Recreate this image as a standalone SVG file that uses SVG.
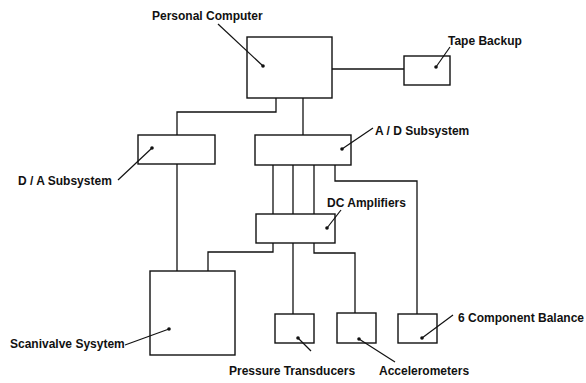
<svg xmlns="http://www.w3.org/2000/svg" width="586" height="383" viewBox="0 0 586 383">
<style>
.box{fill:#fff;stroke:#111;stroke-width:1.4}
.ln{fill:none;stroke:#111;stroke-width:1.3}
.ld{fill:none;stroke:#111;stroke-width:1.2}
.dot{fill:#111}
text{font-family:"Liberation Sans",Arial,sans-serif;font-size:12px;font-weight:bold;fill:#111}
</style>
<rect width="586" height="383" fill="#fff"/>
<g id="connectors">
<path class="ln" d="M332,69 H404"/>
<path class="ln" d="M276,98 V112 H177 V135"/>
<path class="ln" d="M303,98 V135"/>
<path class="ln" d="M177,164 V271"/>
<path class="ln" d="M273,165 V214 M293,165 V214 M314,165 V214"/>
<path class="ln" d="M335,165 V181 H417 V314"/>
<path class="ln" d="M273,243 V252 H208 V271"/>
<path class="ln" d="M293,243 V314"/>
<path class="ln" d="M314,243 V253 H355 V313"/>
</g>
<g id="pc">
<rect class="box" x="247" y="37" width="85" height="61"/>
<circle class="dot" cx="263" cy="66" r="1.8"/>
<path class="ld" d="M218,24 L263,66"/>
<text x="152" y="20">Personal Computer</text>
</g>
<g id="tape">
<rect class="box" x="404" y="56" width="46" height="29"/>
<circle class="dot" cx="436" cy="67" r="1.8"/>
<path class="ld" d="M450,47 L436,67"/>
<text x="448" y="45">Tape Backup</text>
</g>
<g id="da">
<rect class="box" x="138" y="135" width="77" height="29"/>
<circle class="dot" cx="152" cy="148" r="1.8"/>
<path class="ld" d="M118,180 L152,148"/>
<text x="18" y="185">D / A Subsystem</text>
</g>
<g id="ad">
<rect class="box" x="255" y="135" width="96" height="30"/>
<circle class="dot" cx="342" cy="149" r="1.8"/>
<path class="ld" d="M373,128 L342,149"/>
<text x="375" y="135">A / D Subsystem</text>
</g>
<g id="dc">
<rect class="box" x="256" y="214" width="79" height="29"/>
<circle class="dot" cx="327" cy="228" r="1.8"/>
<path class="ld" d="M341,210 L327,228"/>
<text x="327" y="207">DC Amplifiers</text>
</g>
<g id="scani">
<rect class="box" x="150" y="271" width="85" height="84"/>
<circle class="dot" cx="169" cy="329" r="1.8"/>
<path class="ld" d="M125,345 L169,329"/>
<text x="10" y="348">Scanivalve Sysytem</text>
</g>
<g id="pressure">
<rect class="box" x="275" y="314" width="39" height="29"/>
<circle class="dot" cx="298" cy="338" r="1.8"/>
<path class="ld" d="M298,338 L311,351"/>
<text x="229" y="375">Pressure Transducers</text>
</g>
<g id="accel">
<rect class="box" x="337" y="313" width="39" height="30"/>
<circle class="dot" cx="359" cy="339" r="1.8"/>
<path class="ld" d="M359,339 L395,362"/>
<text x="379" y="375">Accelerometers</text>
</g>
<g id="balance">
<rect class="box" x="398" y="314" width="39" height="29"/>
<circle class="dot" cx="422" cy="338" r="1.8"/>
<path class="ld" d="M422,338 L453,315"/>
<text x="458" y="322">6 Component Balance</text>
</g>
</svg>
